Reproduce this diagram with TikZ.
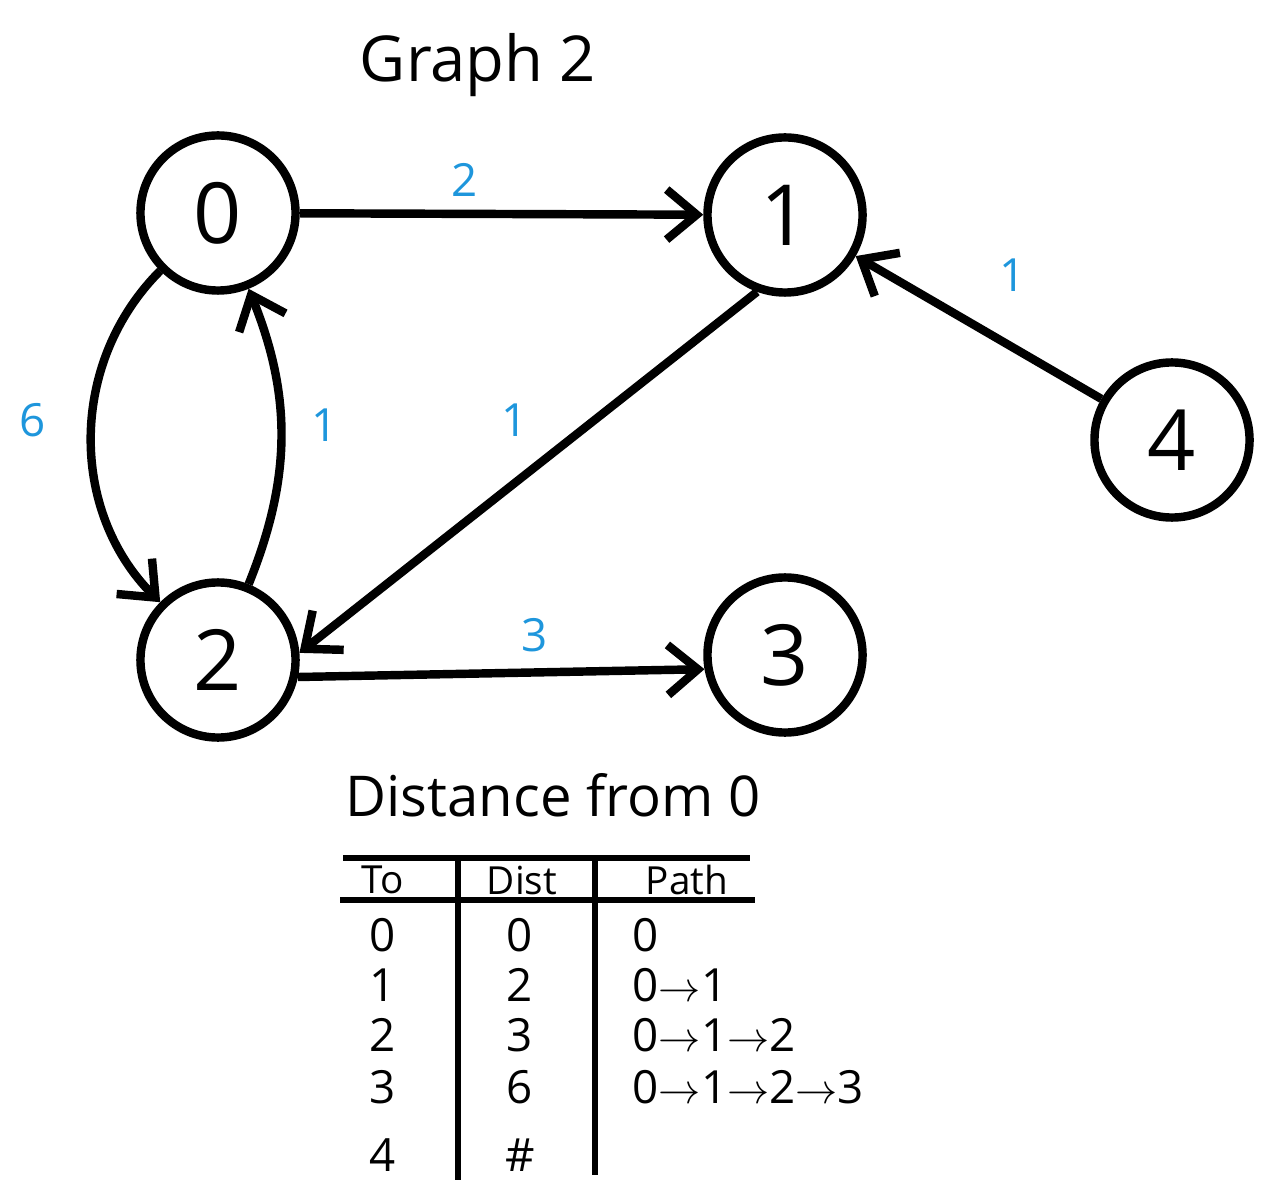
\documentclass[tikz,border=0pt]{standalone}
\usepackage{fontspec}
\setmainfont{Open Sans}
\usetikzlibrary{arrows.meta}
\definecolor{wblue}{RGB}{30,150,220}
\tikzset{
  vertex/.style={circle, draw, line width=2.4pt, minimum size=1.55cm, inner sep=0pt, font=\fontsize{24}{28}\selectfont},
  edge/.style={line width=2.4pt, -{Straight Barb[length=3mm,width=5mm,line width=2.4pt]}},
  weight/.style={text=wblue, font=\fontsize{13}{15}\selectfont},
  cell/.style={font=\fontsize{13}{15}\selectfont, inner sep=0pt},
  rule/.style={line width=1.8pt}
}
\begin{document}
\begin{tikzpicture}[x=0.01cm, y=-0.01cm]
        \useasboundingbox (0,0) rectangle (1280,1201);
        \node [font=\fontsize{18}{22}\selectfont] (title) at (478, 65) {Graph 2};
        \node [vertex] (v0) at (218, 213) {0};
        \node [vertex] (v1) at (785, 215) {1};
        \node [vertex] (v2) at (218, 660) {2};
        \node [vertex] (v3) at (785, 655) {3};
        \node [vertex] (v4) at (1172, 440) {4};
        \draw [edge] (v0) -- (v1);
        \draw [edge] (v4) -- (v1);
        \draw [edge] (v1.250) -- (v2.5);
        \draw [edge] (v2.-12) -- (v3.190);
        \draw [edge] (v0) to[bend right=45] (v2);
        \draw [edge] (v2) to[bend right=22] (v0);
        \node [weight] (w01) at (465, 180) {2};
        \node [weight] (w41) at (1013, 275) {1};
        \node [weight] (w12) at (515, 420) {1};
        \node [weight] (w02) at (33, 420) {6};
        \node [weight] (w20) at (325, 425) {1};
        \node [weight] (w23) at (535, 635) {3};
        % table
        \node [font=\fontsize{16}{19}\selectfont] (caption) at (553, 795) {Distance from 0};
        \coordinate (t1) at (343, 858); \coordinate (t2) at (750, 858);
        \coordinate (h1) at (340, 900); \coordinate (h2) at (755, 900);
        \coordinate (c1) at (458, 858); \coordinate (c2) at (458, 1180);
        \coordinate (d1) at (595, 858); \coordinate (d2) at (595, 1175);
        \draw [rule] (t1) -- (t2);
        \draw [rule] (h1) -- (h2);
        \draw [rule] (c1) -- (c2);
        \draw [rule] (d1) -- (d2);
        \node [cell, font=\fontsize{11}{13}\selectfont] (hto) at (383, 880) {To};
        \node [cell, font=\fontsize{11}{13}\selectfont] (hdist) at (522, 880) {Dist};
        \node [cell, font=\fontsize{11}{13}\selectfont] (hpath) at (687, 880) {Path};
        \foreach \v/\d/\p/\y in {0/0/0/935, 1/2/{0$\to$1}/985, 2/3/{0$\to$1$\to$2}/1035, 3/6/{0$\to$1$\to$2$\to$3}/1087, 4/\#//1155}{
                \node [cell] (to\v) at (383, \y) {\v};
                \node [cell] (dist\v) at (520, \y) {\d};
                \node [cell, anchor=west] (path\v) at (632, \y) {\p};
            }
    \end{tikzpicture}
\end{document}
